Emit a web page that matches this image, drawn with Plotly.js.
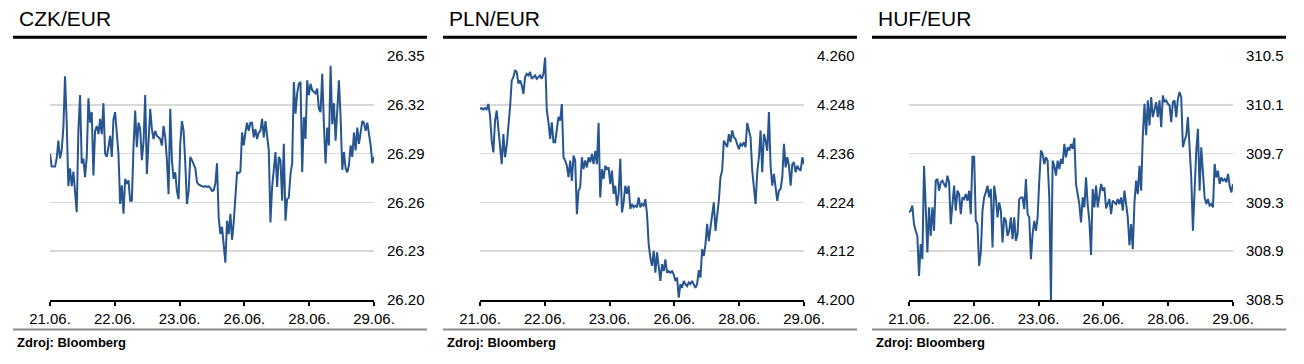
<!DOCTYPE html>
<html>
<head>
<meta charset="utf-8">
<script src="https://cdn.plot.ly/plotly-3.0.1.min.js"></script>
<style>html,body{margin:0;padding:0;background:#fff;}#chart{width:1304px;height:364px;}</style>
</head>
<body>
<div id="chart"></div>
<script>
// ---- data ----
var dateLabels = ["21.06.", "22.06.", "23.06.", "26.06.", "28.06.", "29.06."];

var czkValues = [
26.290, 26.282, 26.282, 26.282, 26.287, 26.298, 26.287, 26.292, 26.306, 26.3375,
26.309, 26.270, 26.281, 26.270, 26.279, 26.263, 26.254, 26.304, 26.326, 26.284,
26.287, 26.2755, 26.288, 26.324, 26.309, 26.3155, 26.2765, 26.304, 26.307, 26.302,
26.3114, 26.302, 26.321, 26.290, 26.288, 26.294, 26.301, 26.288, 26.311, 26.3155,
26.304, 26.290, 26.259, 26.2705, 26.253, 26.2745, 26.2715, 26.2735, 26.261, 26.261,
26.294, 26.3165, 26.294, 26.309, 26.305, 26.286, 26.297, 26.326, 26.2775, 26.298,
26.3175, 26.305, 26.299, 26.304, 26.301, 26.300, 26.299, 26.295, 26.307, 26.300,
26.286, 26.265, 26.3175, 26.286, 26.2745, 26.2785, 26.267, 26.262, 26.296, 26.310,
26.304, 26.284, 26.259, 26.267, 26.288, 26.286, 26.283, 26.281, 26.2725, 26.271,
26.2705, 26.270, 26.2695, 26.270, 26.2695, 26.270, 26.269, 26.267, 26.2675, 26.2715,
26.284, 26.251, 26.2405, 26.245, 26.235, 26.223, 26.2487, 26.2405, 26.253, 26.237,
26.2477, 26.261, 26.2785, 26.278, 26.279, 26.303, 26.295, 26.303, 26.309, 26.304,
26.309, 26.309, 26.300, 26.305, 26.299, 26.303, 26.304, 26.3114, 26.300, 26.310,
26.299, 26.292, 26.2477, 26.2695, 26.280, 26.291, 26.2695, 26.288, 26.286, 26.261,
26.296, 26.2487, 26.262, 26.263, 26.2775, 26.284, 26.334, 26.3145, 26.327, 26.333,
26.334, 26.2785, 26.3124, 26.299, 26.335, 26.326, 26.333, 26.329, 26.328, 26.327,
26.330, 26.3175, 26.3155, 26.339, 26.308, 26.284, 26.306, 26.295, 26.344, 26.308,
26.321, 26.298, 26.3165, 26.335, 26.3124, 26.280, 26.291, 26.281, 26.2785, 26.283,
26.295, 26.288, 26.303, 26.292, 26.306, 26.296, 26.303, 26.310, 26.309, 26.304,
26.309, 26.302, 26.295, 26.284, 26.288
];

var plnValues = [
4.2470, 4.2472, 4.2468, 4.2472, 4.2469, 4.2482, 4.2454, 4.2392, 4.2363, 4.2441,
4.2466, 4.2417, 4.2376, 4.2334, 4.2408, 4.2351, 4.2380, 4.2425, 4.2474, 4.2540,
4.2548, 4.2565, 4.2561, 4.2532, 4.2540, 4.2528, 4.2507, 4.2548, 4.2556, 4.2552,
4.2561, 4.2544, 4.2548, 4.2552, 4.2544, 4.2548, 4.2552, 4.2544, 4.2556, 4.2596,
4.2466, 4.2437, 4.2396, 4.2437, 4.2388, 4.2388, 4.2417, 4.2450, 4.2441, 4.2482,
4.2351, 4.2343, 4.2330, 4.2302, 4.2343, 4.2293, 4.2355, 4.2343, 4.2211, 4.2269,
4.2277, 4.2351, 4.2322, 4.2343, 4.2326, 4.2351, 4.2339, 4.2359, 4.2334, 4.2367,
4.2334, 4.2435, 4.2252, 4.2322, 4.2298, 4.2330, 4.2322, 4.2326, 4.2285, 4.2318,
4.2261, 4.2281, 4.2232, 4.2261, 4.2347, 4.2215, 4.2240, 4.2281, 4.2261, 4.2281,
4.2224, 4.2236, 4.2228, 4.2232, 4.2228, 4.2252, 4.2228, 4.2236, 4.2232, 4.2248,
4.2211, 4.2137, 4.2104, 4.2084, 4.2121, 4.2067, 4.2117, 4.2080, 4.2047, 4.2088,
4.2071, 4.2100, 4.2067, 4.2071, 4.2067, 4.2071, 4.2063, 4.2047, 4.2055, 4.2006,
4.2039, 4.2030, 4.2047, 4.2039, 4.2034, 4.2043, 4.2039, 4.2047, 4.2039, 4.2030,
4.2039, 4.2073, 4.2055, 4.2125, 4.2108, 4.2137, 4.2187, 4.2145, 4.2178, 4.2211,
4.2240, 4.2170, 4.2203, 4.2244, 4.2302, 4.2318, 4.2392, 4.2384, 4.2376, 4.2408,
4.2388, 4.2417, 4.2400, 4.2396, 4.2380, 4.2371, 4.2384, 4.2380, 4.2388, 4.2376,
4.2435, 4.2417, 4.2400, 4.2318, 4.2277, 4.2236, 4.2314, 4.2351, 4.2417, 4.2314,
4.2408, 4.2392, 4.2367, 4.2462, 4.2330, 4.2281, 4.2310, 4.2277, 4.2244, 4.2269,
4.2273, 4.2302, 4.2384, 4.2326, 4.2351, 4.2330, 4.2281, 4.2334, 4.2339, 4.2314,
4.2330, 4.2322, 4.2318, 4.2351, 4.2334
];

var hufValues = [
309.218, 309.232, 309.273, 309.120, 309.067, 309.026, 308.697, 308.958, 308.834, 309.601,
309.273, 308.889, 309.259, 309.026, 309.259, 309.067, 309.478, 309.492, 309.396, 309.464,
309.478, 309.451, 309.423, 309.519, 309.464, 309.122, 309.300, 309.437, 309.232, 309.396,
309.368, 309.204, 309.341, 309.327, 309.368, 309.314, 309.396, 309.204, 309.675, 309.675,
309.150, 309.122, 308.780, 308.889, 309.232, 309.341, 309.382, 309.437, 309.341, 309.410,
308.930, 309.437, 309.341, 309.177, 309.300, 309.232, 308.971, 309.177, 309.149, 309.026,
309.067, 309.177, 308.999, 309.177, 308.985, 309.040, 309.327, 309.341, 309.341, 309.245,
309.492, 309.204, 309.177, 308.834, 309.040, 309.149, 309.067, 309.177, 309.478, 309.725,
309.697, 309.615, 309.670, 309.642, 309.341, 308.500, 309.642, 309.600, 309.519, 309.642,
309.574, 309.656, 309.615, 309.779, 309.670, 309.752, 309.725, 309.779, 309.738, 309.829,
309.450, 309.368, 309.286, 309.136, 309.341, 309.259, 309.505, 309.280, 309.149, 308.870,
309.410, 309.259, 309.437, 309.259, 309.341, 309.451, 309.396, 309.423, 309.250, 309.286,
309.327, 309.204, 309.314, 309.300, 309.286, 309.327, 309.286, 309.341, 309.232, 309.396,
309.273, 309.177, 308.950, 309.122, 308.916, 309.300, 309.478, 309.368, 309.600, 309.396,
309.848, 310.108, 309.850, 310.136, 309.930, 310.163, 309.999, 310.067, 310.122, 309.999,
310.136, 309.916, 310.177, 310.122, 310.136, 310.108, 310.095, 309.958, 310.122, 310.136,
309.999, 310.149, 310.204, 310.163, 309.752, 309.807, 309.848, 309.999, 309.779, 309.505,
309.067, 309.478, 309.725, 309.903, 309.396, 309.752, 309.505, 309.341, 309.286, 309.327,
309.273, 309.286, 309.259, 309.615, 309.505, 309.560, 309.451, 309.505, 309.478, 309.492,
309.464, 309.533, 309.437, 309.382, 309.451
];

var czkTicks = [26.20, 26.23, 26.26, 26.29, 26.32, 26.35];
var plnTicks = [4.200, 4.212, 4.224, 4.236, 4.248, 4.260];
var hufTicks = [308.5, 308.9, 309.3, 309.7, 310.1, 310.5];

var panelTitles = ["CZK/EUR", "PLN/EUR", "HUF/EUR"];
var sourceText = "Zdroj: Bloomberg";

// ---- build ----
var W = 1304, H = 364;
var FONT = "Liberation Sans, Arial, sans-serif";
var LINE = "#26558f";

function xsFor(vals) {
  var n = vals.length, out = [];
  for (var i = 0; i < n; i++) out.push(i * (dateLabels.length - 1) / (n - 1));
  return out;
}

var series = [czkValues, plnValues, hufValues];
var ticks = [czkTicks, plnTicks, hufTicks];
var decimals = [2, 3, 1];
var offsets = [0, 430, 859];

var traces = [];
var layout = {
  width: W, height: H,
  margin: {l: 0, r: 0, t: 0, b: 0},
  paper_bgcolor: "#fff", plot_bgcolor: "rgba(0,0,0,0)",
  showlegend: false,
  font: {family: FONT, color: "#000"},
  shapes: [], annotations: []
};

var tickIdx = dateLabels.map(function (d, i) { return i; });

for (var p = 0; p < 3; p++) {
  var sfx = p === 0 ? "" : String(p + 1);
  var off = offsets[p];
  traces.push({
    type: "scatter", mode: "lines",
    x: xsFor(series[p]), y: series[p],
    xaxis: "x" + sfx, yaxis: "y" + sfx,
    line: {color: LINE, width: 2},
    hoverinfo: "skip"
  });
  var x0 = (off + 50) / W, x1 = (off + 374) / W;
  layout["xaxis" + sfx] = {
    domain: [x0, x1], range: [0, dateLabels.length - 1],
    anchor: "y" + sfx,
    tickvals: tickIdx, ticktext: dateLabels,
    showgrid: false, zeroline: false,
    showline: true, linecolor: "#000", linewidth: 2,
    ticks: "outside", ticklen: 4, tickwidth: 2, tickcolor: "#000",
    tickfont: {size: 15, family: FONT, color: "#000"},
    fixedrange: true
  };
  var tk = ticks[p];
  layout["yaxis" + sfx] = {
    domain: [1 - 300 / H, 1 - 56 / H],
    range: [tk[0], tk[tk.length - 1]],
    anchor: "x" + sfx, side: "right",
    tickvals: tk, ticktext: tk.map(function (v) { return v.toFixed(decimals[p]); }),
    showgrid: true, gridcolor: "#d9d9d9", gridwidth: 1.5,
    zeroline: false, showline: false,
    ticks: "outside", ticklen: 9, tickcolor: "rgba(0,0,0,0)",
    tickfont: {size: 15, family: FONT, color: "#000"},
    fixedrange: true
  };
  // title
  layout.annotations.push({
    xref: "paper", yref: "paper", x: (off + 17) / W, y: 1 - 18 / H,
    xanchor: "left", yanchor: "middle", showarrow: false,
    text: panelTitles[p], font: {size: 21, family: FONT, color: "#000"}
  });
  // source
  layout.annotations.push({
    xref: "paper", yref: "paper", x: (off + 15) / W, y: 1 - 342 / H,
    xanchor: "left", yanchor: "middle", showarrow: false,
    text: "<b>" + sourceText + "</b>", font: {size: 13, family: FONT, color: "#000"}
  });
  // black rule under title
  layout.shapes.push({
    type: "line", xref: "paper", yref: "paper",
    x0: (off + 13) / W, x1: (off + 427) / W, y0: 1 - 37.3 / H, y1: 1 - 37.3 / H,
    line: {color: "#000", width: 3}
  });
  // grey rule above source
  layout.shapes.push({
    type: "line", xref: "paper", yref: "paper",
    x0: (off + 13) / W, x1: (off + 427) / W, y0: 1 - 329.5 / H, y1: 1 - 329.5 / H,
    line: {color: "#8c8c8c", width: 2}
  });
}

Plotly.newPlot("chart", traces, layout, {displayModeBar: false, staticPlot: true});
</script>
</body>
</html>
